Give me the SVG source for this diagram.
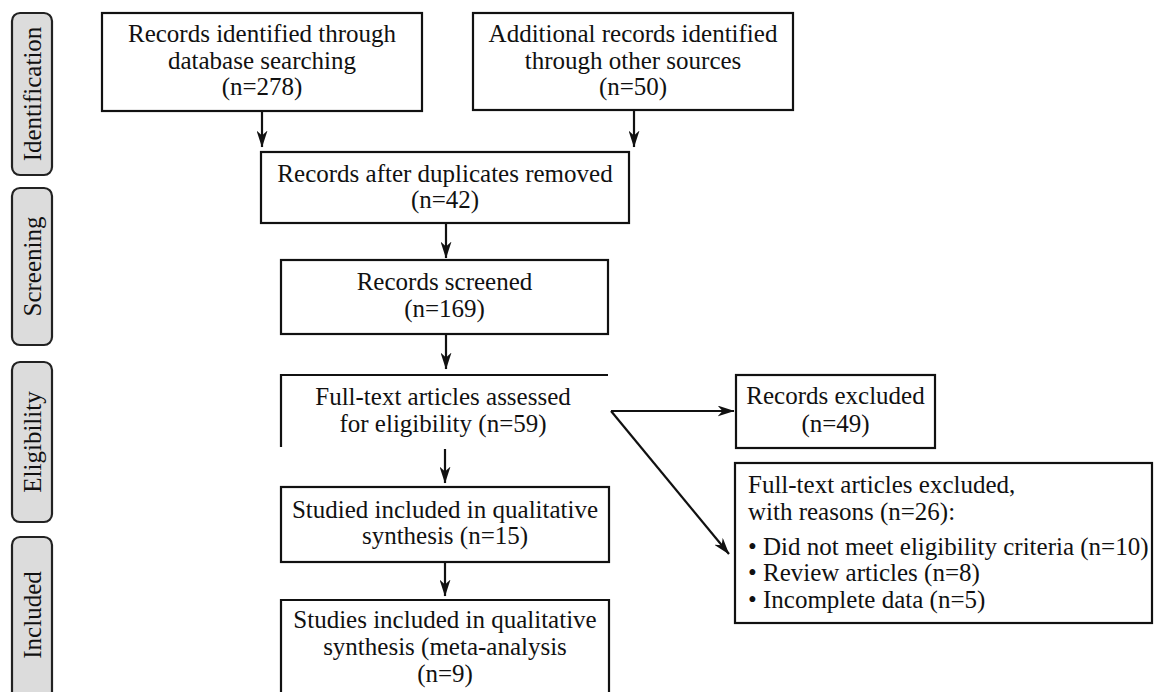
<svg xmlns="http://www.w3.org/2000/svg" width="1154" height="692" viewBox="0 0 1154 692">
<style>
text{font-family:"Liberation Serif","Times New Roman",serif;font-size:25px;fill:#111}
.c{text-anchor:middle}
.box{fill:#fff;stroke:#111;stroke-width:2.2}
.side{fill:#dcdcdc;stroke:#222;stroke-width:2.2}
.ln{fill:none;stroke:#111;stroke-width:2.2}
</style>
<defs>
<marker id="ah" viewBox="0 0 17 11" refX="16.5" refY="5.5" markerWidth="17" markerHeight="11" markerUnits="userSpaceOnUse" orient="auto">
<path d="M0,0 L17,5.5 L0,11 L5,5.5 Z" fill="#111"/>
</marker>
</defs>
<rect width="1154" height="692" fill="#fff"/>
<g id="phase-identification">
<rect class="side" x="12" y="13" width="40" height="162" rx="8"/>
<text class="c" transform="translate(41,94) rotate(-90)">Identification</text>
</g>
<g id="phase-screening">
<rect class="side" x="12" y="188" width="40" height="157" rx="8"/>
<text class="c" transform="translate(41,266.5) rotate(-90)">Screening</text>
</g>
<g id="phase-eligibility">
<rect class="side" x="12" y="362" width="40" height="160" rx="8"/>
<text class="c" transform="translate(41,442) rotate(-90)">Eligibility</text>
</g>
<g id="phase-included">
<rect class="side" x="12" y="537" width="40" height="170" rx="8"/>
<text class="c" transform="translate(41,615) rotate(-90)">Included</text>
</g>
<g id="n-database">
<rect class="box" x="102" y="13" width="320" height="98"/>
<text class="c" x="262" y="42">Records identified through</text>
<text class="c" x="262" y="69">database searching</text>
<text class="c" x="262" y="95">(n=278)</text>
</g>
<g id="n-other">
<rect class="box" x="473" y="13" width="320" height="97"/>
<text class="c" x="633" y="42">Additional records identified</text>
<text class="c" x="633" y="69">through other sources</text>
<text class="c" x="633" y="95">(n=50)</text>
</g>
<g id="n-duplicates">
<rect class="box" x="261" y="152" width="368" height="71"/>
<text class="c" x="445" y="182">Records after duplicates removed</text>
<text class="c" x="445" y="208">(n=42)</text>
</g>
<g id="n-screened">
<rect class="box" x="281" y="260" width="327" height="74"/>
<text class="c" x="444.5" y="290">Records screened</text>
<text class="c" x="444.5" y="317">(n=169)</text>
</g>
<g id="n-fulltext">
<path class="ln" d="M281,447 L281,375 L608,375"/>
<text class="c" x="443" y="405">Full-text articles assessed</text>
<text class="c" x="443" y="432">for eligibility (n=59)</text>
</g>
<g id="n-qualitative">
<rect class="box" x="281" y="487" width="328" height="75"/>
<text class="c" x="445" y="518">Studied included in qualitative</text>
<text class="c" x="445" y="544">synthesis (n=15)</text>
</g>
<g id="n-meta">
<path class="ln" d="M281,700 L281,600 L609,600 L609,700"/>
<text class="c" x="445" y="628">Studies included in qualitative</text>
<text class="c" x="445" y="655">synthesis (meta-analysis</text>
<text class="c" x="445" y="682">(n=9)</text>
</g>
<g id="n-records-excluded">
<rect class="box" x="736" y="375" width="199" height="73"/>
<text class="c" x="835.5" y="404">Records excluded</text>
<text class="c" x="835.5" y="432">(n=49)</text>
</g>
<g id="n-fulltext-excluded">
<rect class="box" x="735" y="463" width="417" height="160"/>
<text x="748" y="493">Full-text articles excluded,</text>
<text x="748" y="520">with reasons (n=26):</text>
<text x="748" y="555">• Did not meet eligibility criteria (n=10)</text>
<text x="748" y="581">• Review articles (n=8)</text>
<text x="748" y="608">• Incomplete data (n=5)</text>
</g>
<g id="connectors">
<line class="ln" x1="262" y1="111" x2="262" y2="147" marker-end="url(#ah)"/>
<line class="ln" x1="634" y1="110" x2="634" y2="147" marker-end="url(#ah)"/>
<line class="ln" x1="446" y1="223" x2="446" y2="258" marker-end="url(#ah)"/>
<line class="ln" x1="446" y1="334" x2="446" y2="369" marker-end="url(#ah)"/>
<line class="ln" x1="445" y1="449" x2="445" y2="483" marker-end="url(#ah)"/>
<line class="ln" x1="445" y1="562" x2="445" y2="596" marker-end="url(#ah)"/>
<line class="ln" x1="611" y1="411" x2="734" y2="411" marker-end="url(#ah)"/>
<line class="ln" x1="611" y1="411" x2="729" y2="554" marker-end="url(#ah)"/>
</g>
</svg>
